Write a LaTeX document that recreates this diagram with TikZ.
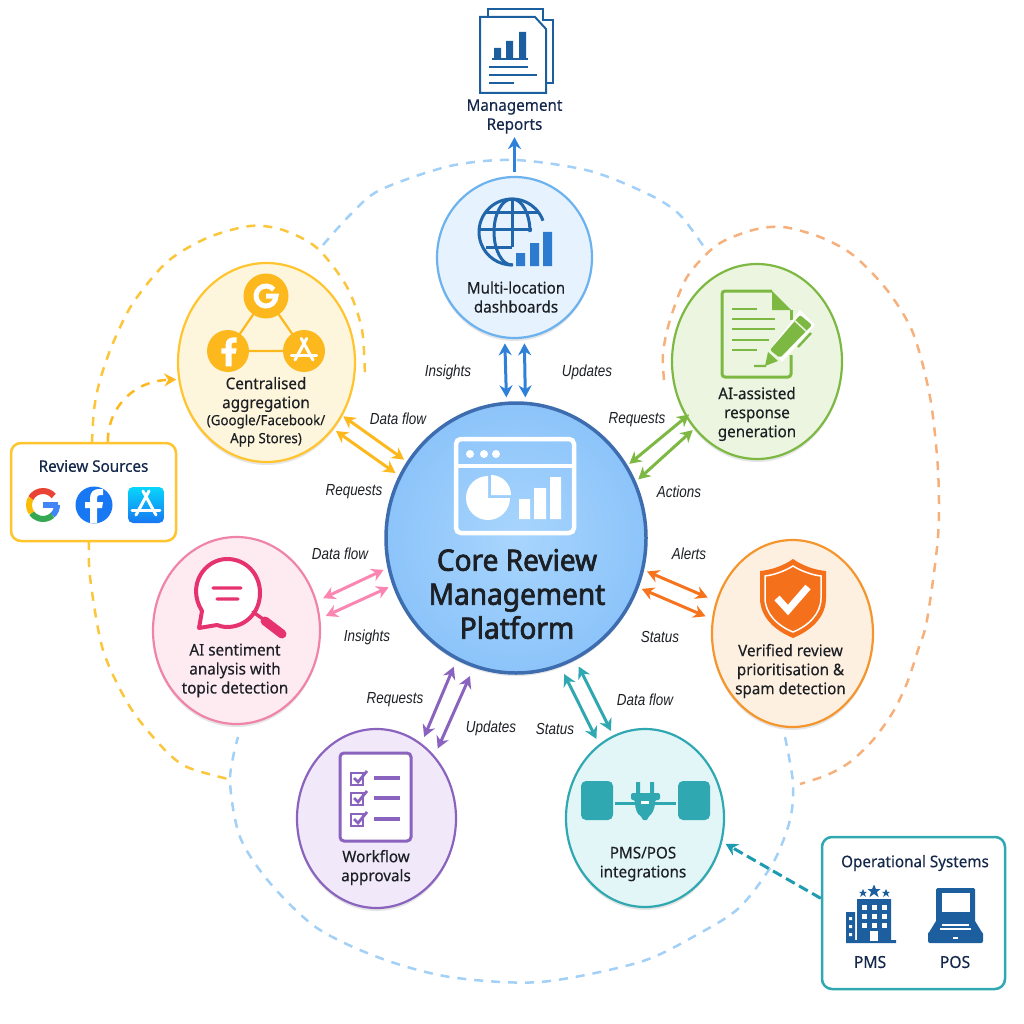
\documentclass[tikz,border=0pt]{standalone}
\usepackage{xcolor}
\usepackage{fontspec}
\setmainfont{Noto Sans}
\newfontfamily\medfont[FakeBold=0.3,FakeStretch=0.95]{Noto Sans}
\newfontfamily\corefont[FakeBold=2.4,FakeStretch=0.95]{Noto Sans}
\newfontfamily\tagfont[ItalicFeatures={FakeStretch=0.84}]{Liberation Sans}
\usetikzlibrary{arrows.meta}
\usetikzlibrary{shapes.geometric}
\usetikzlibrary{shadows}
\definecolor{ringyellow}{HTML}{FFC42E}
\definecolor{fillyellow}{HTML}{FEF6DC}
\definecolor{dashyellow}{HTML}{FBC63C}
\definecolor{arrowyellow}{HTML}{FDB81E}
\definecolor{ringblue}{HTML}{6CB2EE}
\definecolor{fillblue}{HTML}{E6F2FD}
\definecolor{dashblue}{HTML}{A3D0F6}
\definecolor{arrowblue}{HTML}{2F80D8}
\definecolor{inkblue}{HTML}{1D5E9E}
\definecolor{ringgreen}{HTML}{7DB843}
\definecolor{fillgreen}{HTML}{EBF5E0}
\definecolor{ringorange}{HTML}{F4952D}
\definecolor{fillorange}{HTML}{FEF0E0}
\definecolor{dashorange}{HTML}{F6B07C}
\definecolor{inkorange}{HTML}{F5701B}
\definecolor{ringteal}{HTML}{30A8B2}
\definecolor{fillteal}{HTML}{E2F6F8}
\definecolor{inkteal}{HTML}{1E9BB0}
\definecolor{ringpurple}{HTML}{8A63BE}
\definecolor{fillpurple}{HTML}{F1E8FA}
\definecolor{ringpink}{HTML}{F084A8}
\definecolor{arrowpink}{HTML}{FA86B1}
\definecolor{fillpink}{HTML}{FEEBF2}
\definecolor{inkpink}{HTML}{E6336F}
\definecolor{ringcore}{HTML}{3D6DAF}
\definecolor{coreinner}{HTML}{A8D5FD}
\definecolor{coreouter}{HTML}{8CC4FA}
\definecolor{navy}{HTML}{14284B}
\definecolor{textdark}{HTML}{1C1F24}
\definecolor{gred}{HTML}{EA4335}
\definecolor{gyellow}{HTML}{FBBC05}
\definecolor{ggreen}{HTML}{34A853}
\definecolor{gblue}{HTML}{4285F4}
\definecolor{fbblue}{HTML}{1877F2}
\tikzset{
  blob/.style={ellipse, draw, line width=2.2pt, inner sep=0pt, outer sep=0pt,
    drop shadow={shadow xshift=0pt, shadow yshift=-3pt, opacity=.10, fill=black}},
  boxed/.style={rectangle, draw, rounded corners=10pt, line width=2.5pt, fill=white},
  twoway/.style={{Stealth[length=12pt,width=13pt]}-{Stealth[length=12pt,width=13pt]}, line width=3pt},
  oneway/.style={-{Stealth[length=12pt,width=13pt]}, line width=3pt},
  loopline/.style={dashed, dash pattern=on 9pt off 8pt, line width=2.5pt},
  caption/.style={align=center, text=textdark, font=\medfont\fontsize{16}{19}\selectfont},
  flowtag/.style={text=textdark, yshift=-1.5pt, font=\tagfont\itshape\fontsize{16}{18}\selectfont},
  boxtitle/.style={align=center, text=navy, font=\medfont\fontsize{16}{19}\selectfont},
  effmark/.pic={
    \fill[white] (-4,18) -- (-4,3) -- (-9,3) -- (-9,-3) -- (-4,-3) -- (-4,-7)
      .. controls (-4,-13) and (0,-16) .. (5,-16) -- (9,-16) -- (9,-10) -- (6,-10)
      .. controls (4,-10) and (3,-9) .. (3,-7) -- (3,-3) -- (9,-3) -- (8,3) -- (3,3) -- (3,18) -- cycle;
  },
  appmark/.pic={
    \draw[white, line width=3pt, line cap=round] (3,-14) -- (-10,10);
    \draw[white, line width=3pt, line cap=round] (-3,-14) -- (10,10);
    \draw[white, line width=3pt, line cap=round] (-14,5) -- (14,5);
  }
}
\begin{document}
\begin{tikzpicture}[x=1pt,y=-1pt]
  \useasboundingbox (0,0) rectangle (1024,1024);
  %DASHED LOOPS
  \draw[loopline, dashblue] plot[smooth] coordinates {(323,245) (350,215) (380,190) (450,166) (515,160) (590,171) (650,195) (680,215) (706,250)};
  \draw[loopline, dashblue] plot[smooth] coordinates {(785,737) (793,783) (790,820) (773,863) (740,907) (700,933) (640,962) (540,982) (450,977) (380,958) (317,928) (270,883) (240,837) (230,780) (238,737)};
  \draw[loopline, dashorange] plot[smooth] coordinates {(664,380) (663,353) (670,320) (687,277) (717,245) (753,230) (783,227) (820,237) (853,255) (887,290) (913,333) (930,397) (938,470) (938,537) (927,620) (918,650) (907,683) (893,712) (873,740) (850,762) (827,775) (800,784)};
  \draw[loopline, dashyellow] plot[smooth] coordinates {(92,443) (94,410) (100,380) (113,343) (133,303) (167,262) (207,238) (250,226) (283,230) (317,248) (347,287) (362,330) (365,380)};
  \draw[loopline, dashyellow] plot[smooth] coordinates {(89,541) (90,577) (103,650) (130,707) (163,748) (187,767) (228,779)};
  %CIRCLES
  \node[blob, fill=fillblue, draw=ringblue, minimum width=155pt, minimum height=161pt] (dash) at (514.5,257.5) {};
  \node[blob, fill=fillyellow, draw=ringyellow, minimum width=177pt, minimum height=199pt] (agg) at (266.5,362.5) {};
  \node[blob, fill=fillgreen, draw=ringgreen, minimum width=170pt, minimum height=195pt] (resp) at (757,361.5) {};
  \node[blob, fill=fillorange, draw=ringorange, minimum width=161pt, minimum height=187pt] (spam) at (792.5,633.5) {};
  \node[blob, fill=fillteal, draw=ringteal, minimum width=158pt, minimum height=178pt] (pms) at (645,818) {};
  \node[blob, fill=fillpurple, draw=ringpurple, minimum width=159pt, minimum height=179pt] (flow) at (376.5,818.5) {};
  \node[blob, fill=fillpink, draw=ringpink, minimum width=167pt, minimum height=187pt] (senti) at (236.5,630.5) {};
  \node[blob, inner color=coreinner, outer color=coreouter, draw=ringcore, line width=3.5pt, minimum width=260pt, minimum height=270pt] (core) at (516,538) {};
  %BOXES
  \node[boxed, draw=ringyellow, minimum width=165pt, minimum height=98pt] (rs) at (93.5,492) {};
  \node[boxed, draw=ringteal, minimum width=183pt, minimum height=152pt] (ops) at (913.5,913) {};
  %TWO WAY ARROWS
  \draw[twoway, arrowblue, shorten <=6pt, shorten >=6pt] (core.94.5) -- (dash.263.7);
  \draw[twoway, arrowblue, shorten <=6pt, shorten >=6pt] (core.86.8) -- (dash.-83.7);
  \draw[twoway, arrowyellow, shorten <=5pt, shorten >=2pt] (core.145.4) -- (agg.-35);
  \draw[twoway, arrowyellow, shorten <=6pt, shorten >=4pt] (core.152.9) -- (agg.-45.4);
  \draw[twoway, ringgreen, shorten <=4pt, shorten >=-3pt] (core.33.3) -- (resp.218.4);
  \draw[twoway, ringgreen, shorten <=5pt, shorten >=3pt] (core.25.8) -- (resp.227.4);
  \draw[twoway, inkorange!90!ringorange, shorten <=5pt, shorten >=10pt] (core.-14.4) -- (spam.157.5);
  \draw[twoway, inkorange!90!ringorange, shorten <=5pt, shorten >=8pt] (core.-22) -- (spam.170);
  \draw[twoway, arrowpink, shorten <=6pt, shorten >=8pt] (core.193.8) -- (senti.20.6);
  \draw[twoway, arrowpink, shorten <=6pt, shorten >=7pt] (core.201.7) -- (senti.8.5);
  \draw[twoway, ringpurple, shorten <=9pt, shorten >=8pt] (core.244.9) -- (flow.59.8);
  \draw[twoway, ringpurple, shorten <=11pt, shorten >=9pt] (core.252.4) -- (flow.47.2);
  \draw[twoway, ringteal, shorten <=10pt, shorten >=7pt] (core.-71.4) -- (pms.122.7);
  \draw[twoway, ringteal, shorten <=9pt, shorten >=6pt] (core.-64.7) -- (pms.111.3);
  %ARROW TAGS
  \node[flowtag] (taga) at (448,371) {Insights};
  \node[flowtag] (tagb) at (587,371) {Updates};
  \node[flowtag] (tagc) at (398,417) {Data flow};
  \node[flowtag] (tagd) at (354,490) {Requests};
  \node[flowtag] (tage) at (637,418) {Requests};
  \node[flowtag] (tagf) at (679,490) {Actions};
  \node[flowtag] (tagg) at (340,552) {Data flow};
  \node[flowtag] (tagh) at (367,636) {Insights};
  \node[flowtag] (tagi) at (689,552) {Alerts};
  \node[flowtag] (tagj) at (660,635) {Status};
  \node[flowtag] (tagk) at (395,698) {Requests};
  \node[flowtag] (tagl) at (491,727) {Updates};
  \node[flowtag] (tagm) at (555,727) {Status};
  \node[flowtag] (tagn) at (645,698) {Data flow};
  %INCOMING AND OUTGOING
  \node[boxtitle] (reports) at (514.5,116.5) {Management\\Reports};
  \draw[oneway, arrowblue, shorten <=5pt, shorten >=0pt] (dash.north) -- (reports.south);
  \draw[loopline, arrowyellow, -{Stealth[length=12pt,width=13pt]}, shorten >=3pt] (rs.74.6) .. controls (107,412) and (130,381) .. (agg.191);
  \draw[oneway, dashed, dash pattern=on 10pt off 5pt, inkteal, shorten >=5pt] (ops.171.4) -- (pms.-17.6);
  %REPORT ICON
  \draw[inkblue, line width=1.8pt] (488,17) -- (488,9) -- (543,9) -- (543,20) -- (553,20) -- (553,83) -- (546,83);
  \draw[inkblue, line width=2pt, fill=white] (480,17) -- (535,17) -- (546,29) -- (546,93) -- (480,93) -- cycle;
  \fill[inkblue] (494,48) rectangle (501,58) (506,41) rectangle (513,58) (519,32) rectangle (526,58);
  \draw[inkblue, line width=1.8pt] (492,59) -- (528,59) (489,67) -- (528,67) (489,75) -- (537,75) (489,83) -- (514,83);
  %GLOBE ICON
  \draw[inkblue!80!arrowblue, line width=3pt] (512,232) ++(-20:33) arc[start angle=-20, end angle=-272, radius=33];
  \draw[inkblue!80!arrowblue, line width=3pt] (512,199) arc[start angle=-90, end angle=-270, x radius=18, y radius=33];
  \draw[inkblue!80!arrowblue, line width=3pt] (512,199) arc[start angle=-90, end angle=0, x radius=18, y radius=33];
  \draw[inkblue!80!arrowblue, line width=3pt] (512,199) -- (512,247) (486,213) -- (538,213) (479,230) -- (532,230) (486,247) -- (512,247);
  \fill[arrowblue!85!inkblue] (516,253) rectangle (525,266) (530,243) rectangle (539,266) (543,232) rectangle (552,266);
  \node[caption] (dashtext) at (516,297) {Multi-location\\dashboards};
  %AGGREGATION ICON
  \draw[arrowyellow, line width=2.2pt] (266,296) -- (228,351) -- (304,351) -- cycle;
  \fill[arrowyellow] (266,296) circle[radius=22.5] (228,351) circle[radius=21] (304,351) circle[radius=21];
  \draw[white, line width=5pt] (266,296) ++(-40:10) arc[start angle=-40, end angle=-360, radius=10] -- (266,296);
  \pic[scale=.85] at (229,351) {effmark};
  \pic[scale=.9] at (304,351) {appmark};
  \node[caption] (aggtext) at (266,394.5) {Centralised\\aggregation};
  \node[caption, font=\medfont\fontsize{14}{18}\selectfont] (aggnote) at (266,430.5) {(Google/Facebook/\\App Stores)};
  %RESPONSE ICON
  \draw[ringgreen, line width=3pt, rounded corners=3pt] (772,291) -- (722,291) -- (722,377) -- (791,377) -- (791,355);
  \draw[ringgreen, line width=3pt] (791,320) -- (791,310);
  \fill[ringgreen] (772,291) -- (791,310) -- (772,310) -- cycle;
  \foreach \yy/\xx in {309/757,319/775,329/775,340/769,350/757}
    \draw[ringgreen, line width=2.8pt] (732,\yy) -- (\xx,\yy);
  \fill[white] (772,347) -- (800,310) -- (815,325) -- (782,362) -- cycle;
  \fill[ringgreen, rounded corners=2pt] (770,350) -- (800,315) -- (812,325) -- (780,358) -- cycle;
  \fill[ringgreen] (768,352) -- (778,361) -- (765,366) -- cycle;
  \draw[ringgreen, line width=2.4pt] (754,366) -- (766,366) (798,347) -- (811,333);
  \draw[fillgreen, line width=1.5pt] (794,320) -- (806,331);
  \node[caption] (resptext) at (757,414) {AI-assisted\\response\\generation};
  %SHIELD ICON
  \fill[inkorange] (793,559) .. controls (803,566) and (815,570) .. (826,571) -- (826,598) .. controls (826,618) and (810,631) .. (793,638) .. controls (776,631) and (760,618) .. (760,598) -- (760,571) .. controls (771,570) and (783,566) .. (793,559) -- cycle;
  \draw[white, line width=1.5pt] (793,566) .. controls (803,572) and (813,575) .. (821,576) -- (821,598) .. controls (821,614) and (808,626) .. (793,632) .. controls (778,626) and (765,614) .. (765,598) -- (765,576) .. controls (773,575) and (783,572) .. (793,566) -- cycle;
  \draw[white, line width=7pt] (777,598) -- (788,610) -- (808,587);
  \node[caption] (spamtext) at (790.5,671) {Verified review\\prioritisation \&\\spam detection};
  %PLUG ICON
  \fill[ringteal, rounded corners=5pt] (581,781) rectangle (613,820) (678,781) rectangle (710,820);
  \draw[ringteal, line width=3pt] (615,803) -- (676,803);
  \fill[ringteal] (636,782) rectangle (640,795) (650,782) rectangle (654,795);
  \fill[ringteal, rounded corners=2pt] (631,793) -- (660,793) -- (660,800) -- (655,800) .. controls (655,810) and (651,815) .. (648,816) -- (648,820) -- (642,820) -- (642,816) .. controls (638,815) and (635,810) .. (635,800) -- (631,800) -- cycle;
  \fill[white] (641,801) rectangle (649,803.5);
  \node[caption] (pmstext) at (643,864) {PMS/POS\\integrations};
  %CHECKLIST ICON
  \draw[ringpurple, line width=3pt, rounded corners=4pt, fill=white] (340,753) rectangle (411,841);
  \foreach \yy in {778,798,819}{
    \draw[ringpurple, line width=2pt] (351,\yy-5) rectangle (363,\yy+7);
    \draw[ringpurple, line width=2.8pt] (354,\yy) -- (358,\yy+4) -- (367,\yy-7);
    \draw[ringpurple, line width=3.2pt] (374,\yy) -- (400,\yy);
  }
  \node[caption] (flowtext) at (376,867.5) {Workflow\\approvals};
  %SENTIMENT ICON
  \draw[inkpink, line width=4pt, line join=round, fill=white] (217,625) -- (199,628) -- (202,611) .. controls (186,585) and (205,559) .. (227,559) .. controls (246,559) and (260,574) .. (260,593) .. controls (260,612) and (246,627) .. (227,627) .. controls (223,627) and (220,626) .. (217,625) -- cycle;
  \draw[inkpink, line width=3.4pt, line cap=round] (213,588) -- (241,588) (217,599) -- (238,599) (253,612) -- (263,619);
  \draw[inkpink, line width=9pt, line cap=round] (265,621) -- (282,634);
  \node[caption] (sentitext) at (235,670.5) {AI sentiment\\analysis with\\topic detection};
  %CORE ICON
  \draw[white, line width=4.5pt, rounded corners=5pt] (456,439) rectangle (574,533);
  \draw[white, line width=4pt] (456,466) -- (574,466);
  \fill[white] (470,454) circle[radius=4] (484,454) circle[radius=4] (496,454) circle[radius=4];
  \fill[white] (488,498) -- ++(-90:22) arc[start angle=-90, end angle=-360, radius=22] -- cycle;
  \fill[white] (491,495) -- ++(0:20) arc[start angle=0, end angle=-90, radius=20] -- cycle;
  \fill[white] (519,499) rectangle (530,519) (534,488) rectangle (546,519) (550,477) rectangle (561,519);
  \node[align=center, text=textdark, font=\corefont\fontsize{29.5}{34}\selectfont] (coretext) at (517,594) {Core Review\\Management\\Platform};
  %REVIEW SOURCES
  \node[boxtitle] (rstitle) at (93.5,466) {Review Sources};
  \draw[gblue, line width=6pt] (43,505) -- (58,505);
  \draw[gblue, line width=6pt] (43,505) ++(-1:14) arc[start angle=-1, end angle=48, radius=14];
  \draw[ggreen, line width=6pt] (43,505) ++(48:14) arc[start angle=48, end angle=145, radius=14];
  \draw[gyellow, line width=6pt] (43,505) ++(145:14) arc[start angle=145, end angle=210, radius=14];
  \draw[gred, line width=6pt] (43,505) ++(210:14) arc[start angle=210, end angle=320, radius=14];
  \fill[fbblue] (94,505) circle[radius=18.5];
  \pic at (94,505) {effmark};
  \shade[top color=cyan!70!fbblue, bottom color=fbblue, rounded corners=5pt] (128,487) rectangle (164,523);
  \pic at (146,505) {appmark};
  %OPERATIONAL SYSTEMS
  \node[boxtitle] (opstitle) at (915,863) {Operational Systems};
  \node[boxtitle, font=\medfont\fontsize{16.5}{19}\selectfont] (pmslabel) at (870,962) {PMS};
  \node[boxtitle, font=\medfont\fontsize{16.5}{19}\selectfont] (poslabel) at (955,962) {POS};
  \fill[inkblue] (857,899) rectangle (891,942) (846,912) rectangle (855,942) (846,940) rectangle (896,943);
  \foreach \xx in {862,872,882}
    \foreach \yy in {905,914,923}
      \fill[white] (\xx,\yy) rectangle ++(5,5);
  \fill[white] (870,931) rectangle (878,941);
  \fill[white] (849,917) rectangle ++(3,3) (849,925) rectangle ++(3,3) (849,933) rectangle ++(3,3);
  \foreach \xx/\yy/\rr in {874/891/6.5,863/893/4,886/893/4}
    \fill[inkblue] (\xx,\yy-\rr) -- ++(.3*\rr,.7*\rr) -- ++(.7*\rr,0) -- ++(-.55*\rr,.45*\rr) -- ++(.25*\rr,.8*\rr) -- ++(-.7*\rr,-.5*\rr) -- ++(-.7*\rr,.5*\rr) -- ++(.25*\rr,-.8*\rr) -- ++(-.55*\rr,-.45*\rr) -- ++(.7*\rr,0) -- cycle;
  \fill[inkblue, rounded corners=1.5pt] (936,888) rectangle (975,923);
  \fill[white] (942,893) rectangle (970,912);
  \fill[inkblue] (936,921) -- (975,921) -- (983,934) -- (928,934) -- cycle;
  \fill[inkblue, rounded corners=2pt] (928,932) rectangle (983,943);
  \draw[white, line width=1.3pt] (942,925) -- (969,925) (940,929) -- (971,929);
  \fill[white] (953,937) rectangle (958,939);
\end{tikzpicture}
\end{document}
